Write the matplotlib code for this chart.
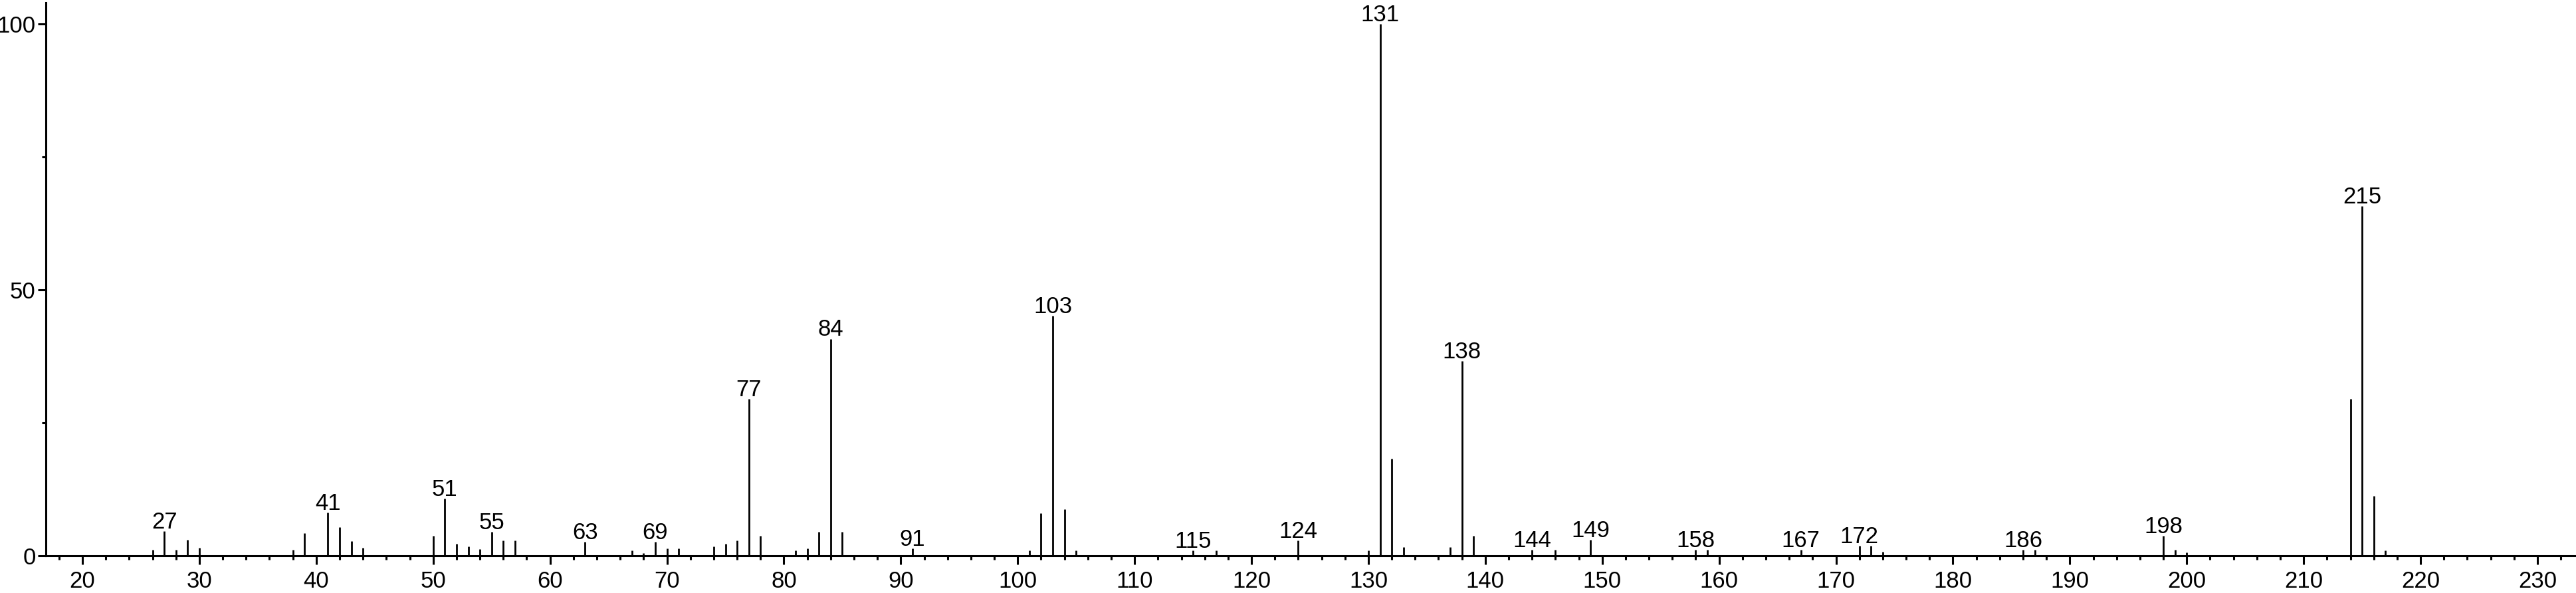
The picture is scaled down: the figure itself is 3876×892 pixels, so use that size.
import numpy as np
import matplotlib.pyplot as plt
from matplotlib.ticker import MultipleLocator
from matplotlib import font_manager

names = {f.name for f in font_manager.fontManager.ttflist}
print('Liberation Sans Narrow' in names)
plt.rcParams['font.family'] = ['Liberation Sans Narrow', 'Liberation Sans', 'DejaVu Sans']

# m/z and relative intensity
mz = [26, 27, 28, 29, 30, 38, 39, 41, 42, 43, 44,
      50, 51, 52, 53, 54, 55, 56, 57, 63, 67, 68, 69, 70, 71,
      74, 75, 76, 77, 78, 81, 82, 83, 84, 85, 91,
      101, 102, 103, 104, 105, 115, 117, 124,
      130, 131, 132, 133, 137, 138, 139, 144, 146, 149, 158, 159,
      167, 172, 173, 174, 186, 187, 198, 199, 200,
      214, 215, 216, 217]
intensity = [1.1, 4.6, 1.1, 3.0, 1.5, 1.1, 4.2, 8.1, 5.4, 2.7, 1.5,
             3.8, 10.7, 2.2, 1.75, 1.3, 4.5, 2.9, 2.9, 2.6, 1.0, 0.5, 2.6, 1.4, 1.4,
             1.75, 2.2, 2.9, 29.5, 3.75, 1.0, 1.4, 4.5, 40.8, 4.5, 1.4,
             1.0, 8.0, 45.1, 8.75, 1.0, 1.0, 1.0, 2.9,
             1.0, 100.0, 18.3, 1.6, 1.6, 36.6, 3.8, 1.1, 1.1, 3.0, 1.1, 1.1,
             1.1, 1.9, 1.9, 0.7, 1.1, 1.1, 3.7, 1.1, 0.6,
             29.5, 65.7, 11.2, 1.0]
labelled = [27, 41, 51, 55, 63, 69, 77, 84, 91, 103, 115, 124,
            131, 138, 144, 149, 158, 167, 172, 186, 198, 215]

fig = plt.figure(figsize=(38.76, 8.92), dpi=100)
ax = fig.add_axes([0.0178, 0.0628, 0.9822, 0.9327])

ax.vlines(mz, 0, intensity, colors='black', linewidth=2.0)

peaks = dict(zip(mz, intensity))
for m in labelled:
    ax.annotate(str(m), (m, peaks[m]), xytext=(0, 3), textcoords='offset points',
                ha='center', va='baseline', fontsize=25)

ax.set_xlim(16.87, 233.3)
ax.set_ylim(0, 104)
ax.xaxis.set_major_locator(MultipleLocator(10))
ax.xaxis.set_minor_locator(MultipleLocator(2))
ax.yaxis.set_major_locator(MultipleLocator(50))
ax.yaxis.set_minor_locator(MultipleLocator(25))

for s in ['top', 'right']:
    ax.spines[s].set_visible(False)
for s in ['left', 'bottom']:
    ax.spines[s].set_linewidth(2.2)

ax.tick_params(which='major', length=9, width=2.2, labelsize=25, pad=7)
ax.tick_params(axis='y', which='major', pad=2)
ax.tick_params(which='minor', length=4.5, width=2.2)

fig.savefig('out.png', dpi=100)
